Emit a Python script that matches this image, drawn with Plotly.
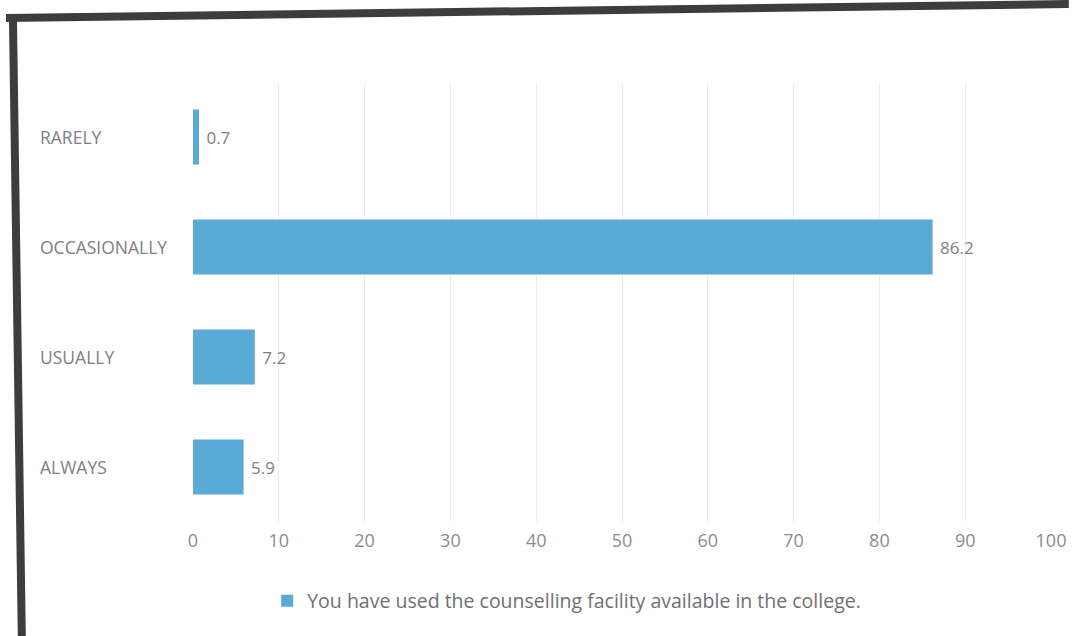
import plotly.graph_objects as go

categories = ["RARELY", "OCCASIONALLY", "USUALLY", "ALWAYS"]
values = [0.7, 86.2, 7.2, 5.9]
series_name = "You have used the counselling facility available in the college."
x_ticks = [0, 10, 20, 30, 40, 50, 60, 70, 80, 90, 100]

W, H = 1078, 636
L, R, T, B = 193, 18, 82, 114
PW, PH = W - L - R, H - T - B

def px(X):
    return (X - L) / PW

def py(Y):
    return (H - B - Y) / PH

BAR = "#5aa9d6"
TXT = "#808080"
FONT = "Open Sans, Liberation Sans, sans-serif"

fig = go.Figure()
fig.add_trace(go.Bar(
    y=categories, x=values, orientation="h", name=series_name,
    marker=dict(color=BAR, line=dict(width=0)),
    width=0.5,
    text=[f" {v}" for v in values], textposition="outside",
    textfont=dict(color=TXT, size=17, family=FONT),
    cliponaxis=False, showlegend=True,
))

annotations = []
for c in categories:
    annotations.append(dict(
        x=px(36), xref="paper", y=c, yref="y", text=c, showarrow=False,
        xanchor="left", yanchor="middle",
        font=dict(color=TXT, size=17.5, family=FONT),
    ))

shapes = [
    dict(type="line", xref="paper", yref="paper",
         x0=px(4), y0=py(18), x1=px(1078), y1=py(4),
         line=dict(color="#3d3d3d", width=8)),
    dict(type="line", xref="paper", yref="paper",
         x0=px(11), y0=py(14), x1=px(20), y1=py(636),
         line=dict(color="#3d3d3d", width=8)),
]

fig.update_layout(
    width=W, height=H,
    margin=dict(l=L, r=R, t=T, b=B),
    paper_bgcolor="white", plot_bgcolor="white",
    font=dict(family=FONT, color=TXT, size=17),
    xaxis=dict(range=[0, 100], tickvals=x_ticks, showgrid=True,
               gridcolor="#ededed", gridwidth=1, zeroline=False,
               showline=False, ticks="", tickfont=dict(size=18, color="#8c8c8c"),
               ticklabelstandoff=6),
    yaxis=dict(categoryorder="array", categoryarray=categories,
               autorange="reversed", showticklabels=False, showgrid=False,
               zeroline=False, showline=False, ticks=""),
    legend=dict(orientation="h", x=px(268), xanchor="left", y=py(601),
                yanchor="middle", font=dict(size=19.5, color="#707070"),
                itemwidth=30),
    annotations=annotations,
    shapes=shapes,
    showlegend=True,
)

fig.write_html("out.html", config={"displayModeBar": False},
               post_script="document.body.style.margin='0';")
